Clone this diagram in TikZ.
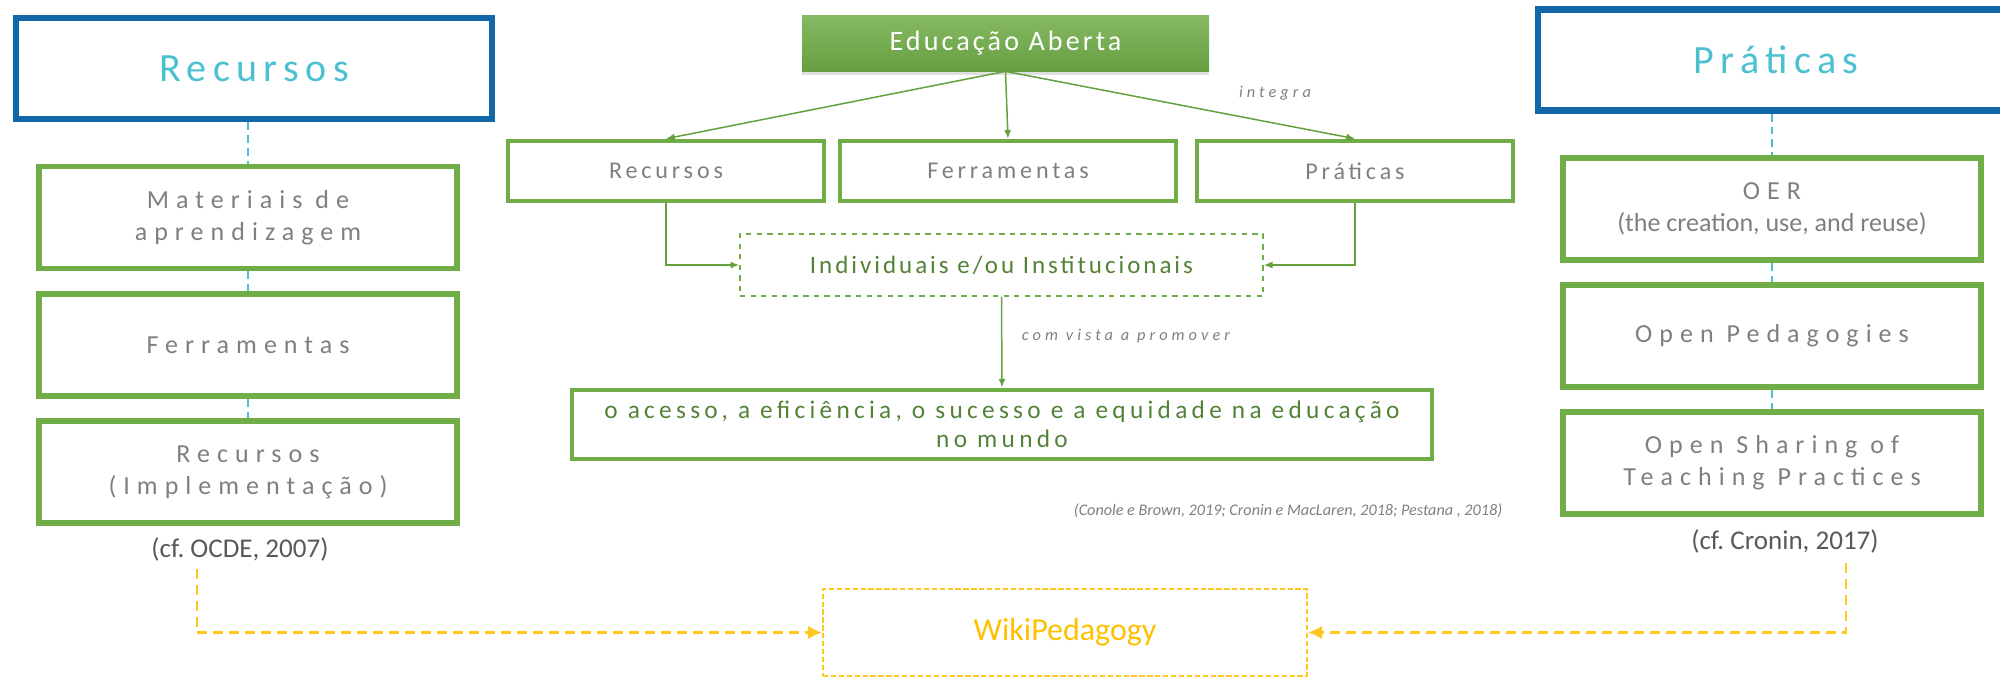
\documentclass[tikz,border=0pt]{standalone}
\usepackage{fontspec}
\setmainfont{Carlito}
\newfontfamily\tracktitle[LetterSpace=16]{Carlito}
\newfontfamily\trackwide[LetterSpace=27]{Carlito}
\newfontfamily\trackmid[LetterSpace=16]{Carlito}
\newfontfamily\trackedu[LetterSpace=11]{Carlito}
\newfontfamily\trackgreen[LetterSpace=12]{Carlito}
\newfontfamily\trackgoal[LetterSpace=17]{Carlito}
\newfontfamily\tracknote[LetterSpace=25]{Carlito}
\usetikzlibrary{arrows.meta,shadows}

\definecolor{oeblue}{HTML}{1267A8}
\definecolor{oecyan}{HTML}{4BC0CF}
\definecolor{oegreen}{HTML}{70AD47}
\definecolor{oedarkgreen}{HTML}{538135}
\definecolor{oelinegreen}{HTML}{64A03E}
\definecolor{oegray}{HTML}{7F7F7F}
\definecolor{oecite}{HTML}{595959}
\definecolor{oeyellow}{HTML}{FFC820}
\definecolor{oewiki}{HTML}{FFC000}

\tikzset{
  headbox/.style={draw=oeblue, line width=3.7pt, minimum width=95.2mm, minimum height=20.2mm,
    text=oecyan, font=\tracktitle\fontsize{22.8}{27}\selectfont},
  itembox/.style={draw=oegreen, line width=3.4pt, minimum width=83.6mm, minimum height=20.4mm,
    text=oegray, align=center, font=\trackwide\fontsize{14.8}{18.2}\selectfont},
  midbox/.style={draw=oegreen, line width=2.6pt, minimum height=12mm,
    text=oegray, font=\trackmid\fontsize{13.7}{16}\selectfont},
  edubox/.style={top color=oegreen!85!white, bottom color=oegreen!92!black, minimum width=81.4mm,
    minimum height=11.2mm, text=white, font=\trackedu\fontsize{16}{19}\selectfont,
    drop shadow={opacity=0.25, shadow xshift=0pt, shadow yshift=-2pt}},
  dashbox/.style={draw=oegreen, dashed, line width=0.8pt, minimum width=104.6mm, minimum height=12.4mm,
    text=oedarkgreen, font=\trackgreen\fontsize{14.2}{17}\selectfont},
  goalbox/.style={draw=oegreen, line width=2.8pt, minimum width=172mm, minimum height=13.8mm,
    text=oedarkgreen, align=center, font=\trackgoal\fontsize{14.4}{16.5}\selectfont},
  note/.style={text=oegray, font=\tracknote\itshape\fontsize{9.3}{11}\selectfont},
  refnote/.style={text=oegray, font=\itshape\fontsize{9.2}{11}\selectfont},
  citebox/.style={text=oecite, font=\fontsize{15.4}{18}\selectfont},
  wikibox/.style={draw=oeyellow, line width=1.3pt, dash pattern=on 3pt off 1.5pt,
    minimum width=96.8mm, minimum height=17.4mm, text=oewiki, font=\fontsize{18.2}{21}\selectfont},
  cyanlink/.style={draw=oecyan, line width=1.1pt, dash pattern=on 4.5pt off 2.8pt},
  greenarrow/.style={draw=oelinegreen, line width=0.85pt, -{Latex[length=5pt,width=4pt]}},
  yellowarrow/.style={draw=oeyellow, line width=1.4pt, dash pattern=on 5.7pt off 3.4pt,
    -{Latex[length=8pt,width=8pt]}}
}

\begin{document}
\frenchspacing
\begin{tikzpicture}[x=0.2mm, y=-0.2mm]
  \useasboundingbox (0,0) rectangle (2000,680);

  \node[headbox] (recurhead) at (254,68.5) {Recursos};
  \node[itembox] (materiais) at (248,217.5) {Materiais de\\aprendizagem};
  \node[itembox] (ferrleft) at (248,345) {Ferramentas};
  \node[itembox] (recimpl) at (248,472) {Recursos\\(Implementação)};
  \node[citebox] (ocde) at (240,549) {(cf. OCDE, 2007)};
  \draw[cyanlink] (materiais.north |- recurhead.south) -- (materiais.north);
  \draw[cyanlink] (materiais) -- (ferrleft);
  \draw[cyanlink] (ferrleft) -- (recimpl);

  \node[headbox] (pratihead) at (1776,60) {Práticas};
  \node[itembox] (oer) at (1772,209) {OER\\{\rmfamily(the creation, use, and reuse)}};
  \node[itembox] (openped) at (1772,336) {Open Pedagogies};
  \node[itembox] (opensharing) at (1772,463) {Open Sharing of\\Teaching Practices};
  \node[citebox] (cronin) at (1785,541) {(cf. Cronin, 2017)};
  \draw[cyanlink] (oer.north |- pratihead.south) -- (oer.north);
  \draw[cyanlink] (oer) -- (openped);
  \draw[cyanlink] (openped) -- (opensharing);

  \node[edubox] (edu) at (1005.5,43) {Educação Aberta};
  \node[midbox, minimum width=63.2mm] (recmid) at (666,171) {Recursos};
  \node[midbox, minimum width=67.2mm] (ferrmid) at (1008,171) {Ferramentas};
  \node[midbox, minimum width=63.2mm] (pratmid) at (1355,171) {Práticas};
  \node[dashbox] (indiv) at (1001.5,265) {Individuais e/ou Institucionais};
  \node[goalbox] (goal) at (1002,424.5) {o acesso, a eficiência, o sucesso e a equidade na educação\\no mundo};
  \node[note] (integra) at (1275,93) {integra};
  \node[note] (promover) at (1126,336) {com vista a promover};
  \node[refnote] (refs) at (1288,511) {(Conole e Brown, 2019; Cronin e MacLaren, 2018; Pestana , 2018)};
  \draw[greenarrow] (edu.south) -- (recmid.north);
  \draw[greenarrow] (edu.south) -- (ferrmid.north);
  \draw[greenarrow] (edu.south) -- (pratmid.north);
  \draw[greenarrow] (recmid.south) |- (indiv.west);
  \draw[greenarrow] (pratmid.south) |- (indiv.east);
  \draw[greenarrow] (indiv.south) -- (goal.north);

  \node[wikibox] (wiki) at (1065,632.5) {WikiPedagogy};
  \coordinate (ocdefoot) at (197,569);
  \coordinate (croninfoot) at (1846,563);
  \draw[yellowarrow] (ocdefoot) |- (wiki.west);
  \draw[yellowarrow] (croninfoot) |- (wiki.east);
\end{tikzpicture}
\end{document}
